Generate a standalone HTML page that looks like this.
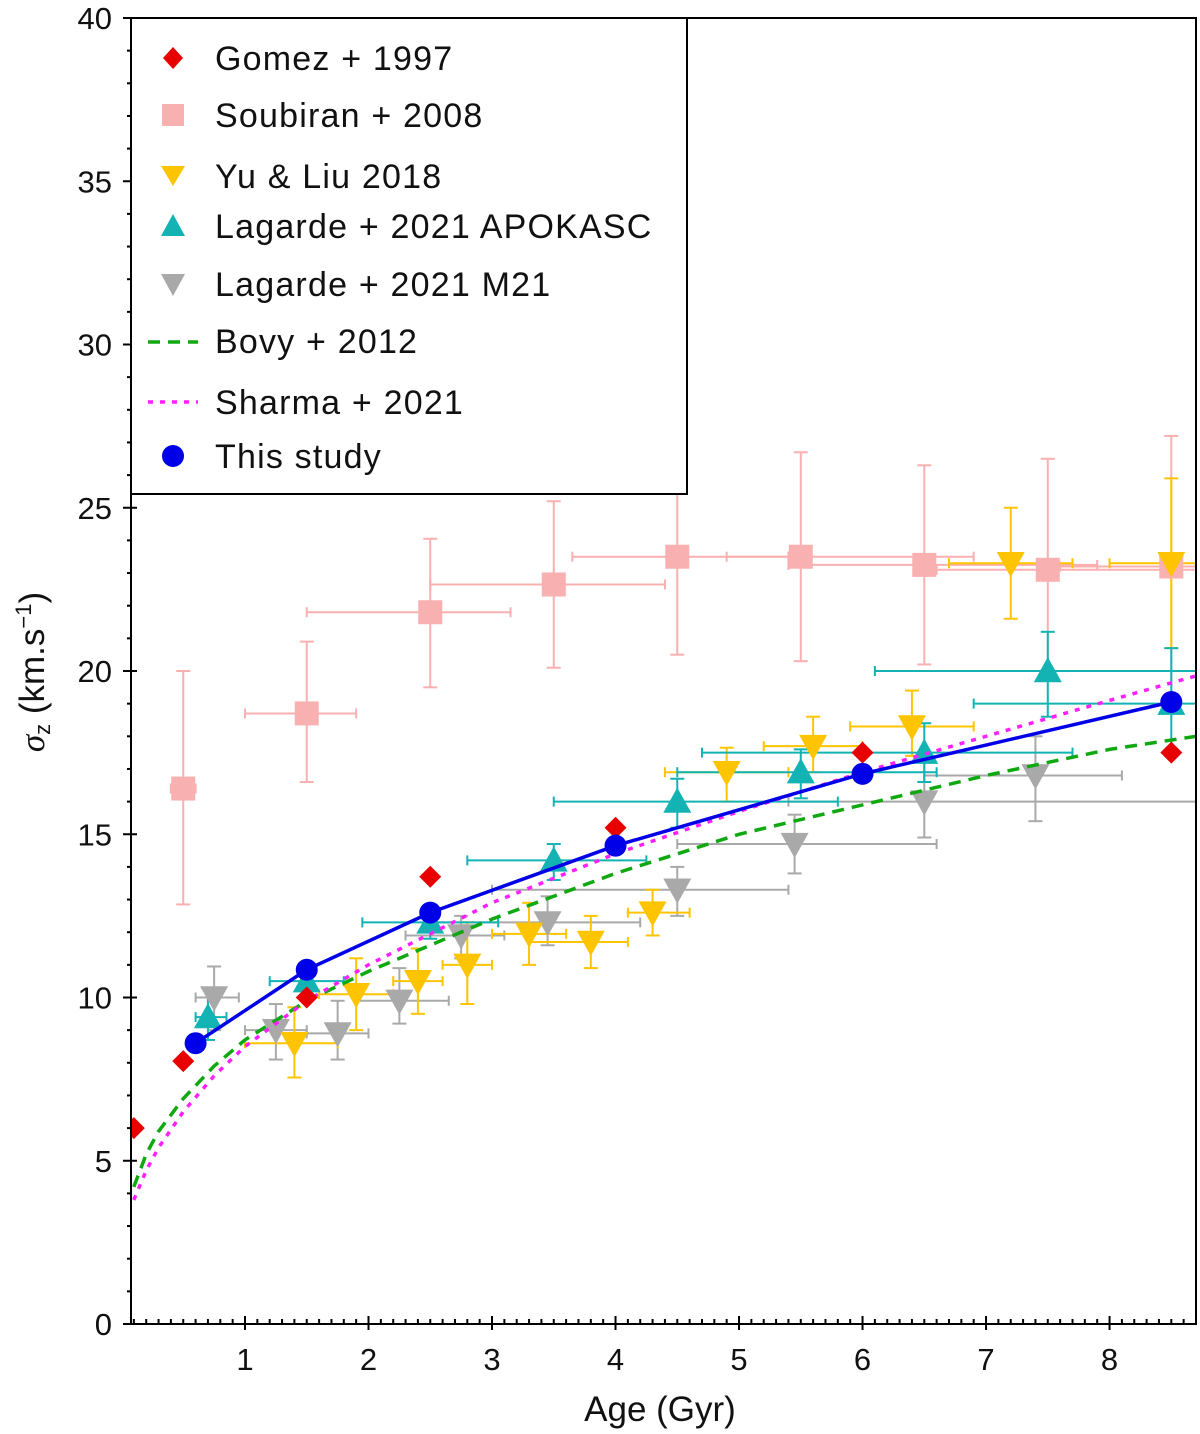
<!DOCTYPE html>
<html><head><meta charset="utf-8"><style>
html,body{margin:0;padding:0;background:#fff;}
svg{display:block;font-family:"Liberation Sans","DejaVu Sans",sans-serif;}
</style></head><body>
<svg id="chart" width="1200" height="1434" viewBox="0 0 1200 1434"></svg>
<script>
// ---- data ----
const gomezAge=[0.1,0.5,1.5,2.5,4,6,8.5];
const gomezSig=[6.0,8.05,10.0,13.7,15.2,17.5,17.5];

const soubAge=[0.5,1.5,2.5,3.5,4.5,5.5,6.5,7.5,8.5];
const soubSig=[16.4,18.7,21.8,22.65,23.5,23.5,23.25,23.1,23.2];
const soubXlo=[0.4,1.0,1.5,2.5,3.65,4.9,5.4,6.6,7.6];
const soubXhi=[0.6,1.9,3.15,4.4,5.4,6.9,7.9,8.7,8.7];
const soubYlo=[12.85,16.6,19.5,20.1,20.5,20.3,20.2,19.8,19.3];
const soubYhi=[20.0,20.9,24.05,25.2,26.4,26.7,26.3,26.5,27.2];

const yuAge=[1.4,1.9,2.4,2.8,3.3,3.8,4.3,4.9,5.6,6.4,7.2,8.5];
const yuSig=[8.6,10.1,10.5,11.0,11.95,11.7,12.6,16.9,17.7,18.3,23.3,23.3];
const yuXlo=[1.0,1.6,2.2,2.6,3.0,3.3,4.1,4.4,5.2,5.9,6.7,8.0];
const yuXhi=[1.75,2.2,2.6,3.0,3.6,4.1,4.6,5.4,6.0,6.9,7.7,8.7];
const yuYlo=[7.55,9.0,9.5,9.8,11.0,10.9,11.9,16.0,16.9,17.4,21.6,20.7];
const yuYhi=[9.7,11.2,11.5,12.3,12.9,12.5,13.3,17.65,18.6,19.4,25.0,25.9];

const apoAge=[0.7,1.5,2.5,3.5,4.5,5.5,6.5,7.5,8.5];
const apoSig=[9.4,10.5,12.3,14.2,16.0,16.9,17.5,20.0,19.0];
const apoXlo=[0.6,1.2,1.95,2.8,3.5,4.5,4.7,6.1,6.9];
const apoXhi=[0.85,1.8,3.05,4.25,5.8,6.6,7.7,8.7,8.7];
const apoYlo=[8.7,10.1,11.8,13.6,15.2,16.1,16.6,18.6,17.4];
const apoYhi=[10.3,11.0,12.8,14.7,16.7,17.6,18.4,21.2,20.7];

const m21Age=[0.75,1.25,1.75,2.25,2.75,3.45,4.5,5.45,6.5,7.4];
const m21Sig=[10.0,9.0,8.9,9.9,11.9,12.3,13.3,14.7,16.0,16.8];
const m21Xlo=[0.6,1.0,1.5,1.9,2.3,2.55,3.0,4.5,5.4,6.5];
const m21Xhi=[0.95,1.5,2.0,2.65,3.1,4.2,5.4,6.6,8.7,8.1];
const m21Ylo=[9.0,8.1,8.1,9.2,11.2,11.6,12.5,13.8,14.9,15.4];
const m21Yhi=[10.95,9.8,9.9,10.9,12.5,13.1,14.0,15.6,17.3,18.0];

const bovyAge=[0.1,0.2,0.3,0.5,0.75,1,1.5,2,3,4,5,6,7,8,8.7];
const bovySig=[4.2,5.2,5.9,6.9,7.9,8.7,9.9,10.8,12.4,13.8,15.0,15.9,16.8,17.6,18.0];
const sharAge=[0.1,0.2,0.3,0.5,0.75,1,1.5,2,3,4,5,6,7,8,8.7];
const sharSig=[3.8,4.7,5.4,6.5,7.6,8.5,9.9,11.0,12.9,14.4,15.7,16.9,18.0,19.1,19.85];

const thisAge=[0.6,1.5,2.5,4,6,8.5];
const thisSig=[8.6,10.85,12.6,14.65,16.85,19.05];

const xTicks=[1,2,3,4,5,6,7,8];
const yTicks=[0,5,10,15,20,25,30,35,40];

// ---- axes ----
const L=131,R=1196,T=18,B=1324;
const X0=0.077,X1=8.7,Y0=0,Y1=40;
const sx=v=>L+(v-X0)/(X1-X0)*(R-L);
const sy=v=>B-(v-Y0)/(Y1-Y0)*(B-T);
const NS="http://www.w3.org/2000/svg";
const svg=document.getElementById('chart');
function mk(tag,attrs,parent){const e=document.createElementNS(NS,tag);for(const k in attrs)e.setAttribute(k,attrs[k]);(parent||svg).appendChild(e);return e;}

const plot=mk('g',{});


const clip=mk('clipPath',{id:'cp'});mk('rect',{x:L,y:T,width:R-L,height:B-T},clip);
const marks=mk('g',{'clip-path':'url(#cp)'},plot);

function errbars(name,color,ages,sig,xlo,xhi,ylo,yhi){
  const g=mk('g',{stroke:color,'stroke-width':2,fill:'none'},marks);
  
  
  for(let i=0;i<ages.length;i++){
    const x=sx(ages[i]),y=sy(sig[i]),c=5;
    mk('line',{x1:sx(xlo[i]),x2:sx(xhi[i]),y1:y,y2:y},g);
    mk('line',{x1:sx(xlo[i]),x2:sx(xlo[i]),y1:y-c,y2:y+c},g);
    mk('line',{x1:sx(xhi[i]),x2:sx(xhi[i]),y1:y-c,y2:y+c},g);
    mk('line',{x1:x,x2:x,y1:sy(ylo[i]),y2:sy(yhi[i])},g);
    mk('line',{x1:x-7,x2:x+7,y1:sy(ylo[i]),y2:sy(ylo[i])},g);
    mk('line',{x1:x-7,x2:x+7,y1:sy(yhi[i]),y2:sy(yhi[i])},g);
  }
}
function marker(shape,x,y,color,s,parent){
  if(shape==='diamond')return mk('polygon',{points:`${x},${y-s} ${x+s},${y} ${x},${y+s} ${x-s},${y}`,fill:color},parent);
  if(shape==='square')return mk('rect',{x:x-s,y:y-s,width:2*s,height:2*s,fill:color},parent);
  if(shape==='down')return mk('polygon',{points:`${x-s},${y-s*0.8} ${x+s},${y-s*0.8} ${x},${y+s}`,fill:color},parent);
  if(shape==='up')return mk('polygon',{points:`${x-s},${y+s*0.8} ${x+s},${y+s*0.8} ${x},${y-s}`,fill:color},parent);
  if(shape==='circle')return mk('circle',{cx:x,cy:y,r:s,fill:color},parent);
}
function points(name,shape,color,s,ages,sig){
  const g=mk('g',{},marks);
  
  
  for(let i=0;i<ages.length;i++){
    const m=marker(shape,sx(ages[i]),sy(sig[i]),color,s,g);
    
    
  }
}
function line(name,ages,sig,color,w,dash){
  const d=ages.map((a,i)=>(i?'L':'M')+sx(a).toFixed(1)+','+sy(sig[i]).toFixed(1)).join(' ');
  const p=mk('path',{d:d,fill:'none',stroke:color,'stroke-width':w,'stroke-dasharray':dash||'none'},marks);
  
  
}

errbars('soubiran-2008','#f9b0b0',soubAge,soubSig,soubXlo,soubXhi,soubYlo,soubYhi);
errbars('lagarde-m21','#a9a9a9',m21Age,m21Sig,m21Xlo,m21Xhi,m21Ylo,m21Yhi);
errbars('yu-liu-2018','#ffc400',yuAge,yuSig,yuXlo,yuXhi,yuYlo,yuYhi);
errbars('lagarde-apokasc','#13b3b3',apoAge,apoSig,apoXlo,apoXhi,apoYlo,apoYhi);
points('soubiran-2008','square','#f9b0b0',12,soubAge,soubSig);
points('lagarde-m21','down','#a9a9a9',14,m21Age,m21Sig);
points('yu-liu-2018','down','#ffc400',14,yuAge,yuSig);
points('lagarde-apokasc','up','#13b3b3',14,apoAge,apoSig);
line('bovy-2012',bovyAge,bovySig,'#10a810',3.5,'12,8');
line('sharma-2021',sharAge,sharSig,'#ff20ff',3.5,'5,7');
points('gomez-1997','diamond','#e80000',11,gomezAge,gomezSig);
line('this-study',thisAge,thisSig,'#0000e8',3.5);
points('this-study','circle','#0000e8',11,thisAge,thisSig);

// frame
const fr=mk('rect',{x:L,y:T,width:R-L,height:B-T,fill:'none',stroke:'#000','stroke-width':2});



// ticks
const tg=mk('g',{stroke:'#000','stroke-width':2});


for(let v=1;v<=87;v++){const a=v/10;if(a<X0)continue;const x=sx(a);const maj=v%10===0;
  mk('line',{x1:x,x2:x,y1:B-(maj?8:5),y2:B+(maj?6:0)},tg);}
for(let v=0;v<=40;v++){const y=sy(v);const maj=v%5===0;
  mk('line',{x1:L-(maj?8:4),x2:L+(maj?6:0),y1:y,y2:y},tg);}
xTicks.forEach(v=>{const t=mk('text',{x:sx(v),y:1370,'text-anchor':'middle','font-size':31,fill:'#111'});t.textContent=v;
  
  });
yTicks.forEach(v=>{const t=mk('text',{x:112,y:sy(v)+11,'text-anchor':'end','font-size':31,fill:'#111'});t.textContent=v;
  
  });
</script>
<svg style="position:absolute;left:0;top:0" width="1200" height="1434">
  <text x="660" y="1421" text-anchor="middle" font-size="35" fill="#111" font-family="Liberation Sans, sans-serif">Age (Gyr)</text>
  <text transform="translate(44,672) rotate(-90)" text-anchor="middle" font-size="35" fill="#111" font-family="Liberation Sans, sans-serif"><tspan font-style="italic" font-family="Liberation Serif, serif">σ</tspan><tspan font-size="22" dy="6">z</tspan><tspan dy="-6"> (km.s</tspan><tspan font-size="22" dy="-13">−1</tspan><tspan dy="13">)</tspan></text>
  <g font-family="Liberation Sans, sans-serif" font-size="34" fill="#111" letter-spacing="1.2">
    <rect x="131" y="18" width="556" height="476" fill="#fff" stroke="#000" stroke-width="2"/>
    <g><polygon points="173,47 183,58 173,69 163,58" fill="#e80000"/><text x="215" y="70">Gomez + 1997</text></g>
    <g><rect x="162" y="104" width="22" height="22" fill="#f9b0b0"/><text x="215" y="127">Soubiran + 2008</text></g>
    <g><polygon points="161,166 185,166 173,186" fill="#ffc400"/><text x="215" y="188">Yu &amp; Liu 2018</text></g>
    <g><polygon points="161,236 185,236 173,214" fill="#13b3b3"/><text x="215" y="238">Lagarde + 2021 APOKASC</text></g>
    <g><polygon points="161,274 185,274 173,296" fill="#a9a9a9"/><text x="215" y="296">Lagarde + 2021 M21</text></g>
    <g><line x1="148" y1="342" x2="198" y2="342" stroke="#10a810" stroke-width="3.5" stroke-dasharray="12,8"/><text x="215" y="353">Bovy + 2012</text></g>
    <g><line x1="148" y1="402" x2="198" y2="402" stroke="#ff20ff" stroke-width="3.5" stroke-dasharray="5,7"/><text x="215" y="414">Sharma + 2021</text></g>
    <g><circle cx="173" cy="456" r="11" fill="#0000e8"/><text x="215" y="468">This study</text></g>
  </g>
</svg>
</body></html>
